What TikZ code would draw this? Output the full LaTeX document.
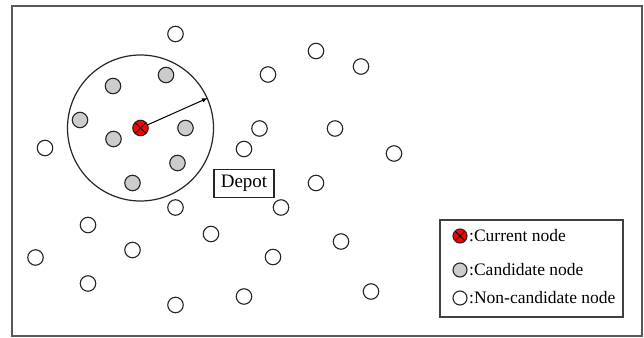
\documentclass[tikz,border=0pt]{standalone}
\usepackage{fontspec}
\setmainfont{Liberation Serif}
\begin{document}
\begin{tikzpicture}[x=1pt,y=-1pt,
  site/.style={circle,draw=black!85,line width=1.1pt,minimum size=15.5pt,inner sep=0pt,fill=white},
  cand/.style={site,fill=black!20},
  current/.style={site,fill=red,
    path picture={\draw[black,line width=0.9pt]
      (path picture bounding box.north west)--(path picture bounding box.south east)
      (path picture bounding box.north east)--(path picture bounding box.south west);}},
  lbl/.style={font=\fontsize{17.5}{20}\selectfont,inner sep=0pt,anchor=west}]
\useasboundingbox (0,0) rectangle (644,337);
% outer frame
\draw[line width=1.6pt,black!65] (12,6) rectangle (642,336);

% search range around the current node
\node[circle,draw=black!85,line width=1.2pt,minimum size=146pt,inner sep=0pt] (range) at (140.5,128) {};
\node[current] (cur) at (140.5,128) {};
\draw[-latex,line width=1pt] (cur) -- (range.24.8);

% candidate nodes
\foreach \n/\x/\y in {c1/166/75,c2/113/86,c3/80/120,c4/185.5/128,c5/113.5/139,c6/177.5/163,c7/132.5/183}
  \node[cand] (\n) at (\x,\y) {};

% non-candidate nodes
\foreach \n/\x/\y in {n1/175.5/34,n2/316/51,n3/361/66.5,n4/268/74.5,n5/259.5/128.5,n6/335/128.5,
  n7/394/153.5,n8/244/149,n9/45/148,n10/316/183,n11/175.5/207.5,n12/281/207.5,n13/88/225,
  n14/211/234,n15/341/241.5,n16/132.5/250,n17/273/257,n18/35.5/257.5,n19/88/283.5,
  n20/244/296.5,n21/371/291.5,n22/175.5/305}
  \node[site] (\n) at (\x,\y) {};

% depot
\node[draw=black!85,line width=1.1pt,minimum width=60pt,minimum height=28pt,inner sep=0pt,
  font=\fontsize{19}{21}\selectfont] (depot) at (244,183.5) {Depot};

% legend
\node[draw=black!75,line width=1.2pt,minimum width=183pt,minimum height=97pt,inner sep=0pt] (legend) at (531.5,268.5) {};
\node[current,minimum size=14pt] (lcur) at (460,236) {};
\node[cand,minimum size=14pt] (lcand) at (460,270) {};
\node[site,minimum size=14pt] (lsite) at (460,298) {};
\node[lbl] (tcur) at (469,236) {:Current node};
\node[lbl] (tcand) at (469,270) {:Candidate node};
\node[lbl] (tsite) at (469,298) {:Non-candidate node};
\end{tikzpicture}
\end{document}
